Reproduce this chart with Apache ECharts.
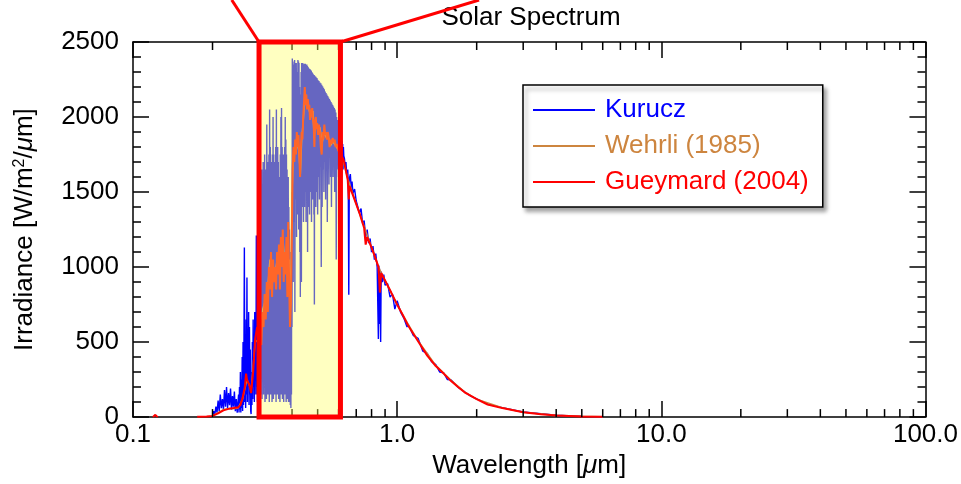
<!DOCTYPE html>
<html>
<head>
<meta charset="utf-8">
<script src="https://cdn.jsdelivr.net/npm/echarts@6/dist/echarts.min.js"></script>
<style>html,body{margin:0;padding:0;background:#fff;}#c{width:961px;height:484px;}</style>
</head>
<body>
<div id="c"></div>
<script>
// ---- data ----
const seriesNames = ['Kurucz', 'Wehrli (1985)', 'Gueymard (2004)'];
const xTickLabels = ['0.1', '1.0', '10.0', '100.0'];
const yTicks = [0, 500, 1000, 1500, 2000, 2500];
const minorXTicks = [0.2,0.3,0.4,0.5,0.6,0.7,0.8,0.9,2,3,4,5,6,7,8,9,20,30,40,50,60,70,80,90];
const zoomBox = [0.3, 0.61];   // highlighted wavelength range (µm)

const kurucz = [
[0.200,5],[0.202,40],[0.204,15],[0.206,70],[0.208,30],[0.210,110],[0.212,40],[0.214,150],[0.216,60],[0.218,120],
[0.220,50],[0.222,180],[0.224,70],[0.226,200],[0.228,60],[0.230,160],[0.232,80],[0.234,190],[0.236,50],[0.238,140],
[0.240,70],[0.242,170],[0.244,40],[0.246,120],[0.248,30],
[0.250,40],[0.251,150],[0.252,30],[0.253,200],[0.254,50],[0.255,300],[0.256,30],[0.257,250],[0.258,60],[0.259,400],
[0.260,40],[0.261,500],[0.262,80],[0.263,450],[0.264,1130],[0.265,100],[0.266,550],[0.267,60],[0.268,650],[0.269,150],
[0.270,930],[0.271,100],[0.272,500],[0.273,200],[0.274,700],[0.275,80],[0.276,600],[0.277,150],[0.278,450],[0.279,40],
[0.280,20],[0.281,300],[0.282,80],[0.283,500],[0.284,120],[0.285,650],[0.286,200],[0.287,550],[0.288,100],[0.289,700],
[0.290,250],[0.291,600],[0.292,150],[0.293,1210],[0.294,200],[0.295,750],[0.296,100],[0.297,650],[0.298,300],[0.299,800],
[0.300,400],[0.301,1450],[0.302,200],[0.303,1600],[0.304,150],[0.305,1500],[0.306,300],[0.307,1650],[0.308,120],[0.309,1550],
[0.310,250],[0.311,1700],[0.312,150],[0.313,1600],[0.314,350],[0.315,1750],[0.316,100],[0.317,1650],[0.318,250],[0.319,1550],
[0.320,120],[0.321,1950],[0.322,300],[0.323,1700],[0.324,150],[0.325,1650],[0.326,400],[0.327,1750],[0.328,100],[0.329,2050],
[0.330,250],[0.331,1800],[0.332,150],[0.333,1700],[0.334,350],[0.335,1600],[0.336,100],[0.337,1750],[0.338,250],[0.339,2000],
[0.340,120],[0.341,1750],[0.342,300],[0.343,1700],[0.344,150],[0.345,1650],[0.346,400],[0.347,1800],[0.348,100],[0.349,2050],
[0.350,250],[0.351,1750],[0.352,150],[0.353,1800],[0.354,350],[0.355,1700],[0.356,120],[0.357,1600],[0.358,300],[0.359,1550],
[0.360,100],[0.361,1750],[0.362,250],[0.363,2000],[0.364,150],[0.365,2060],[0.366,400],[0.367,1800],[0.368,120],[0.369,1700],
[0.370,300],[0.371,1750],[0.372,100],[0.373,1650],[0.374,250],[0.375,1800],[0.376,150],[0.377,2000],[0.378,350],[0.379,1850],
[0.380,100],[0.381,1750],[0.382,250],[0.383,1650],[0.384,120],[0.385,1550],[0.386,300],[0.387,1600],[0.388,100],[0.389,1400],
[0.390,200],[0.391,1250],[0.392,100],[0.393,900],[0.394,80],[0.395,1100],[0.396,60],[0.397,800],[0.398,150],[0.399,1500],
[0.400,600],[0.401,2390],[0.402,1400],[0.403,2350],[0.404,900],[0.405,2300],[0.406,1500],[0.407,2370],[0.408,1300],[0.409,2380],
[0.410,700],[0.411,2360],[0.412,1450],[0.413,2340],[0.414,1600],[0.415,2360],[0.416,1200],[0.417,2300],[0.418,1500],[0.419,2250],
[0.420,1350],[0.421,2380],[0.422,1600],[0.423,2370],[0.424,1250],[0.425,2360],[0.426,1500],[0.427,2200],[0.428,1100],[0.429,2100],
[0.430,800],[0.431,2150],[0.432,1300],[0.433,2300],[0.434,900],[0.435,2360],[0.436,1500],[0.437,2350],[0.438,1400],[0.439,2360],
[0.440,1600],[0.441,2350],[0.442,1300],[0.443,2340],[0.444,1650],[0.445,2355],[0.446,1400],[0.447,2350],[0.448,1700],[0.449,2355],
[0.450,1500],[0.451,2350],[0.452,1300],[0.453,2345],[0.454,1650],[0.455,2350],[0.456,1450],[0.457,2340],[0.458,1100],[0.459,2335],
[0.460,1600],[0.461,2330],[0.462,1400],[0.463,2325],[0.464,1650],[0.465,2320],[0.466,1350],[0.467,2320],[0.468,1700],[0.469,2315],
[0.470,1500],[0.471,2310],[0.472,1650],[0.473,2310],[0.474,1300],[0.475,2300],[0.476,1600],[0.477,2295],[0.478,1450],[0.479,2290],
[0.480,1700],[0.481,2285],[0.482,1500],[0.483,2280],[0.484,1350],[0.485,2280],[0.486,750],[0.487,2275],[0.488,1550],[0.489,2270],
[0.490,1650],[0.491,2270],[0.492,1400],[0.493,2265],[0.494,1700],[0.495,2260],[0.496,1500],[0.497,2260],[0.498,1600],[0.499,2250],
[0.500,1350],[0.502,2245],[0.504,1600],[0.506,2240],[0.508,1450],[0.510,2230],[0.512,1700],[0.514,2225],[0.516,1000],[0.518,2215],
[0.520,1400],[0.522,2205],[0.524,1650],[0.526,2195],[0.528,1500],[0.530,2185],[0.532,1700],[0.534,2170],[0.536,1450],[0.538,2160],
[0.540,1650],[0.542,2150],[0.544,1300],[0.546,2140],[0.548,1700],[0.550,2130],[0.552,1550],[0.554,2120],[0.556,1750],[0.558,2110],
[0.560,1600],[0.562,2100],[0.564,1400],[0.566,2090],[0.568,1750],[0.570,2080],[0.572,1600],[0.574,2070],[0.576,1750],[0.578,2060],
[0.580,1500],[0.582,2050],[0.584,1700],[0.586,2030],[0.588,1050],[0.590,2000],[0.592,1650],[0.594,1980],[0.596,1750],[0.598,1950],
[0.600,1600],[0.602,1930],[0.604,1750],[0.606,1900],[0.608,1500],[0.610,1880],[0.612,1700],[0.614,1860],[0.616,1600],[0.618,1840],
[0.620,1700],[0.622,1820],[0.624,1650],[0.626,1800],[0.628,1740],
[0.632,1720],[0.636,1660],[0.640,1700],[0.645,1600],[0.650,1650],[0.653,1560],[0.656,815],[0.659,1590],[0.665,1620],[0.670,1520],
[0.675,1570],[0.680,1490],[0.690,1520],[0.700,1440],[0.710,1450],[0.720,1360],[0.730,1390],[0.740,1290],[0.750,1310],[0.760,1200],
[0.770,1250],[0.780,1160],[0.790,1190],[0.800,1100],[0.810,1140],[0.820,1050],[0.830,1090],[0.840,1000],[0.849,520],[0.852,1010],
[0.854,620],[0.857,990],[0.862,800],[0.866,500],[0.870,970],[0.880,900],[0.890,950],[0.900,880],[0.920,890],[0.940,800],
[0.960,820],[0.980,720],[1.000,775],[1.030,700],[1.060,660],[1.090,600],[1.100,620],[1.150,545],[1.200,525],[1.250,440],
[1.300,425],[1.350,370],[1.400,350],[1.450,300],[1.500,295],[1.550,250],[1.600,248],[1.700,200],[1.800,168],[1.900,140],
[2.000,122],[2.200,86],[2.500,63],[3.000,34],[4.000,12],[5.000,5],[6.000,2.5]
];

const wehrli = [
[0.199,8],[0.210,30],[0.220,50],[0.230,55],[0.240,55],[0.250,60],[0.260,120],[0.270,250],[0.280,180],[0.290,500],
[0.300,520],[0.305,640],[0.310,720],[0.315,760],[0.320,800],[0.325,900],[0.330,1050],[0.335,930],[0.340,980],[0.345,950],
[0.350,1030],[0.355,1060],[0.360,1000],[0.365,1150],[0.370,1180],[0.375,1020],[0.380,1100],[0.385,980],[0.390,1050],[0.395,750],
[0.400,1500],[0.405,1750],[0.410,1800],[0.415,1780],[0.420,1850],[0.425,1760],[0.430,1620],[0.435,1850],[0.440,1950],[0.445,2080],
[0.450,2150],[0.455,2060],[0.460,2100],[0.465,2040],[0.470,2050],[0.475,2000],[0.480,2040],[0.485,1860],[0.490,1960],[0.495,1930],
[0.500,1920],[0.510,1930],[0.520,1830],[0.530,1900],[0.540,1860],[0.550,1860],[0.560,1810],[0.570,1840],[0.580,1830],[0.590,1800],
[0.600,1780],[0.620,1730],[0.650,1590],[0.700,1420],[0.750,1270],[0.800,1130],[0.850,1000],[0.900,910],[1.000,750],[1.100,620],
[1.200,510],[1.400,345],[1.600,245],[1.800,168],[2.000,120],[2.500,62],[3.000,33],[4.000,12],[5.000,5],[6.000,2.4]
];

const gueymard = [
[0.119,0],[0.1215,15],[0.124,0],[0.125,null],
[0.175,2],[0.190,4],[0.200,8],[0.210,25],[0.220,45],[0.230,55],[0.240,60],[0.250,65],[0.255,80],[0.260,130],
[0.265,200],[0.268,290],[0.270,250],[0.275,220],[0.280,160],[0.285,300],[0.290,520],[0.295,600],[0.298,560],
[0.300,500],[0.303,650],[0.306,480],[0.309,700],[0.312,600],[0.315,820],[0.318,650],[0.321,900],[0.324,700],[0.327,1000],
[0.330,850],[0.333,1100],[0.336,800],[0.339,1050],[0.342,900],[0.345,1000],[0.348,850],[0.351,1100],[0.354,950],[0.357,1150],
[0.360,850],[0.363,1200],[0.366,1000],[0.369,1250],[0.372,900],[0.375,1100],[0.378,950],[0.381,1200],[0.384,800],[0.387,1300],
[0.390,900],[0.393,600],[0.396,750],[0.399,1150],[0.402,1650],[0.405,1800],[0.408,1700],[0.411,1850],[0.414,1750],[0.417,1900],
[0.420,1800],[0.423,1880],[0.426,1750],[0.429,1600],[0.432,1800],[0.435,1900],[0.438,1850],[0.441,2000],[0.444,2100],[0.447,2200],
[0.450,2080],[0.453,2150],[0.456,2050],[0.459,2120],[0.462,2050],[0.465,2080],[0.468,1980],[0.471,2050],[0.474,2000],[0.477,2060],
[0.480,1980],[0.483,1950],[0.486,1800],[0.489,1980],[0.492,2000],[0.495,1920],[0.498,1960],[0.502,1880],[0.506,1950],[0.510,1900],
[0.514,1800],[0.518,1750],[0.522,1900],[0.526,1850],[0.530,1950],[0.534,1880],[0.538,1900],[0.542,1850],[0.546,1900],[0.550,1870],
[0.555,1800],[0.560,1850],[0.565,1820],[0.570,1860],[0.575,1830],[0.580,1850],[0.585,1800],[0.590,1820],[0.595,1790],[0.600,1780],
[0.605,1760],[0.610,1770],[0.615,1740],[0.620,1740],[0.625,1720],[0.630,1700],[0.640,1640],[0.650,1580],[0.656,1450],[0.660,1540],
[0.680,1480],[0.700,1420],[0.720,1360],[0.750,1260],[0.760,1150],[0.770,1200],[0.800,1130],[0.820,1080],[0.850,1000],[0.860,830],
[0.870,960],[0.900,910],[0.950,830],[1.000,750],[1.050,680],[1.100,610],[1.200,505],[1.300,410],[1.400,340],[1.500,290],
[1.600,240],[1.700,200],[1.800,165],[2.000,120],[2.200,84],[2.500,60],[3.000,32],[3.500,19],[4.000,11],[5.000,4.5],[6.000,2.3]
];

// ---- chart ----
const FONT = '"Liberation Sans", Arial, Helvetica, sans-serif';
const FS = 26;
const chart = echarts.init(document.getElementById('c'), null, {renderer: 'canvas'});
const yMin = yTicks[0], yMax = yTicks[yTicks.length - 1];
const colors = ['#0000ff', '#cd853f', '#ff0000'];

function xAxisCfg(pos, showLabel) {
  return {
    type: 'log', logBase: 10, min: 0.1, max: 100, position: pos, splitNumber: 3,
    axisLine: {show: true, onZero: false, lineStyle: {color: '#000', width: 1.5}},
    axisTick: {show: true, inside: true, length: 16, lineStyle: {color: '#000', width: 1.5}},
    axisLabel: {show: showLabel, color: '#000', fontSize: FS, fontFamily: FONT, margin: 5,
      formatter: function (v) { const i = Math.round(Math.log10(v)) + 1; return xTickLabels[i]; }},
    splitLine: {show: false}
  };
}
function yAxisCfg(pos, showLabel) {
  return {
    type: 'value', min: yMin, max: yMax, interval: 500, position: pos,
    axisLine: {show: true, lineStyle: {color: '#000', width: 1.5}},
    axisTick: {show: true, inside: true, length: 16, lineStyle: {color: '#000', width: 1.5}},
    minorTick: {show: true, splitNumber: 5, length: 8, lineStyle: {color: '#000', width: 1.5}},
    axisLabel: {show: showLabel, color: '#000', fontSize: FS, fontFamily: FONT, margin: 14,
      formatter: function (v) { return String(v); }},
    splitLine: {show: false}
  };
}

const xb = xAxisCfg('bottom', true);
xb.name = 'Wavelength [{mu|μ}m]';
xb.nameLocation = 'middle';
xb.nameGap = 30;
xb.nameTextStyle = {color: '#000', fontSize: FS, fontFamily: FONT,
  rich: {mu: {fontStyle: 'italic', fontSize: FS, fontFamily: FONT, color: '#000'}}};
const yl = yAxisCfg('left', true);
yl.name = 'Irradiance [W/m{sup|2}/{mu|μ}m]';
yl.nameLocation = 'middle';
yl.nameGap = 95;
yl.nameTextStyle = {color: '#000', fontSize: FS, fontFamily: FONT,
  rich: {mu: {fontStyle: 'italic', fontSize: FS, fontFamily: FONT, color: '#000'},
         sup: {fontSize: 16, fontFamily: FONT, color: '#000', verticalAlign: 'top', padding: [0, 0, 10, 0]}}};

const option = {
  animation: false,
  backgroundColor: '#fff',
  title: {text: 'Solar Spectrum', left: 526, top: 0, textAlign: 'center',
    textStyle: {fontSize: FS, fontWeight: 'normal', color: '#000', fontFamily: FONT}},
  grid: {left: 133, right: 33, top: 42, bottom: 59, containLabel: false},
  xAxis: [xb, xAxisCfg('top', false)],
  yAxis: [yl, yAxisCfg('right', false)],
  legend: {
    orient: 'vertical', left: 523, top: 85, selectedMode: false,
    icon: 'rect', itemWidth: 62, itemHeight: 2, itemGap: 10,
    padding: [12, 14, 12, 10],
    borderColor: '#000', borderWidth: 1.5, backgroundColor: '#fff',
    shadowColor: 'rgba(0,0,0,0.35)', shadowBlur: 4, shadowOffsetX: 3, shadowOffsetY: 4,
    textStyle: {fontSize: FS, fontFamily: FONT, lineHeight: 26, padding: [0, 0, 0, 5]},
    data: seriesNames.map((n, i) => ({name: n, textStyle: {color: colors[i]}}))
  },
  series: [
    {name: seriesNames[0], type: 'line', data: kurucz, symbol: 'none', z: 2,
      lineStyle: {color: colors[0], width: 1.4}, itemStyle: {color: colors[0]}},
    {name: seriesNames[1], type: 'line', data: wehrli, symbol: 'none', z: 3,
      lineStyle: {color: colors[1], width: 1.5}, itemStyle: {color: colors[1]}},
    {name: seriesNames[2], type: 'line', data: gueymard, symbol: 'none', z: 4, connectNulls: false,
      lineStyle: {color: colors[2], width: 2}, itemStyle: {color: colors[2]}},
    {type: 'custom', z: 5, silent: true, clip: false,
      data: minorXTicks.map(v => [v, yMin]),
      renderItem: function (params, api) {
        const v = api.value(0);
        const b = api.coord([v, yMin]);
        const t = api.coord([v, yMax]);
        const st = {stroke: '#000', lineWidth: 1.5};
        return {type: 'group', children: [
          {type: 'line', shape: {x1: b[0], y1: b[1], x2: b[0], y2: b[1] - 8}, style: st},
          {type: 'line', shape: {x1: t[0], y1: t[1], x2: t[0], y2: t[1] + 8}, style: st}
        ]};
      }},
    {type: 'custom', z: 10, silent: true, clip: false,
      encode: {x: [0, 2], y: [1, 3]},
      data: [[zoomBox[0], yMin, zoomBox[1], yMax]],
      renderItem: function (params, api) {
        const p0 = api.coord([api.value(0), api.value(1)]);
        const p1 = api.coord([api.value(2), api.value(3)]);
        return {type: 'rect',
          shape: {x: p0[0], y: p1[1], width: p1[0] - p0[0], height: p0[1] - p1[1]},
          style: {fill: 'rgba(255,255,100,0.4)', stroke: '#ff0000', lineWidth: 5}};
      }}
  ]
};
chart.setOption(option);

// zoom connector lines from the box's upper corners toward the (off-figure) zoom panel
const pL = chart.convertToPixel({xAxisIndex: 0, yAxisIndex: 0}, [zoomBox[0], yMax]);
const pR = chart.convertToPixel({xAxisIndex: 0, yAxisIndex: 0}, [zoomBox[1], yMax]);
chart.setOption({graphic: [
  {type: 'line', z: 100, shape: {x1: pL[0], y1: pL[1], x2: pL[0] - 0.65 * pL[1], y2: 0}, style: {stroke: '#ff0000', lineWidth: 3}},
  {type: 'line', z: 100, shape: {x1: pR[0], y1: pR[1], x2: pR[0] + 3.3 * pR[1], y2: 0}, style: {stroke: '#ff0000', lineWidth: 3}}
]});
</script>
</body>
</html>
